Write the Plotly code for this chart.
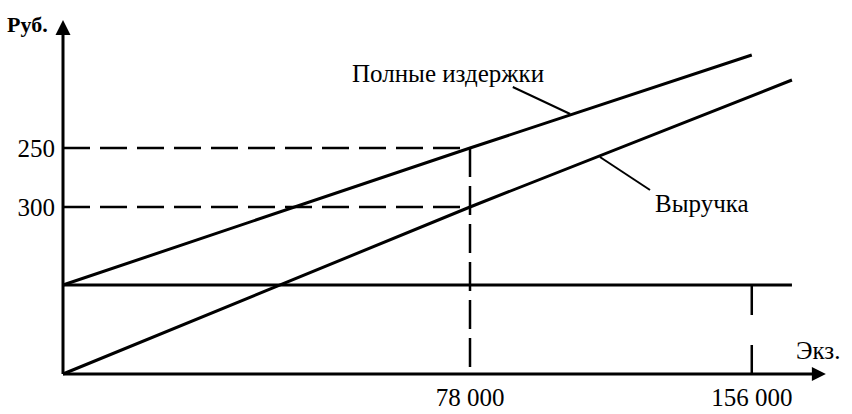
import plotly.graph_objects as go

# ---- data (schematic break-even chart) ----
q_break = 78            # break-even volume, thousand copies
q_cost_end = 132
q_rev_end = 139.7
q_axis_end = 146.2
y_axis_end = 354

cost_x = [0, q_break, q_cost_end]
cost_y = [89, 226, 319]          # total costs
rev_x = [0, q_break, q_rev_end]
rev_y = [0, 167, 294]            # revenue
fixed_x = [0, q_rev_end]
fixed_y = [89, 89]               # fixed costs

y_tick_vals = [226, 167]
y_tick_text = ["250", "300"]
x_tick_vals = [78, 132]
x_tick_text = ["78 000", "156 000"]

cost_leader_x = [86.2, 97.2]
cost_leader_y = [287, 260]
rev_leader_x = [102.9, 112.5]
rev_leader_y = [217, 184]

FONT = "Liberation Serif"
BLACK = "black"

fig = go.Figure()

def line(x, y, width=3, dash="solid"):
    fig.add_trace(go.Scatter(x=x, y=y, mode="lines",
                             line=dict(color=BLACK, width=width, dash=dash),
                             hoverinfo="skip", showlegend=False))

# axes
line([0, 0], [0, y_axis_end - 4], width=3)
line([0, q_axis_end - 1], [0, 0], width=3)
fig.add_trace(go.Scatter(x=[0], y=[y_axis_end], mode="markers",
                         marker=dict(symbol="arrow-up", size=15, color=BLACK),
                         cliponaxis=False, hoverinfo="skip", showlegend=False))
fig.add_trace(go.Scatter(x=[q_axis_end], y=[0], mode="markers",
                         marker=dict(symbol="arrow-right", size=14, color=BLACK),
                         cliponaxis=False, hoverinfo="skip", showlegend=False))

# main lines
line(cost_x, cost_y, width=3)
line(rev_x, rev_y, width=3)
line(fixed_x, fixed_y, width=3)

# dashed guides
line([0, q_break], [y_tick_vals[0], y_tick_vals[0]], width=2.5, dash="27px,10px")
line([0, q_break], [y_tick_vals[1], y_tick_vals[1]], width=2.5, dash="27px,10px")
line([q_break, q_break], [y_tick_vals[0], 0], width=2.5, dash="29px,9px")
line([q_cost_end, q_cost_end], [fixed_y[0], 0], width=2.5, dash="30px,30px")

# leader lines
line(cost_leader_x, cost_leader_y, width=2)
line(rev_leader_x, rev_leader_y, width=2)

x_scale = 407 / 78.0
left = 47
plot_w = 852 - left
x_min = -(63 - left) / x_scale
x_max = x_min + plot_w / x_scale

ann_font = dict(family=FONT, size=25, color=BLACK)
fig.add_annotation(x=cost_leader_x[0] - 12.5, y=cost_leader_y[0] + 14,
                   text="Полные издержки", showarrow=False, font=ann_font)
fig.add_annotation(x=rev_leader_x[1] + 9.9, y=rev_leader_y[1] - 13,
                   text="Выручка", showarrow=False, font=ann_font)
fig.add_annotation(xref="paper", x=(5 - left) / plot_w, xanchor="left", y=350,
                   text="<b>Руб.</b>", showarrow=False,
                   font=dict(family=FONT, size=22, color=BLACK))
fig.add_annotation(x=144.6, y=24, text="Экз.", showarrow=False, font=ann_font)

fig.update_layout(
    width=852, height=414,
    margin=dict(l=left, r=0, t=0, b=30, pad=0),
    paper_bgcolor="white", plot_bgcolor="white",
    showlegend=False,
    font=dict(family=FONT, size=25, color=BLACK),
    xaxis=dict(range=[x_min, x_max], showgrid=False, zeroline=False, showline=False,
               tickvals=x_tick_vals, ticktext=x_tick_text, ticks="",
               anchor="free", position=10 / 384, ticklabelstandoff=6,
               automargin=False,
               tickfont=dict(family=FONT, size=25, color=BLACK)),
    yaxis=dict(range=[-10, 374], showgrid=False, zeroline=False, showline=False,
               tickvals=y_tick_vals, ticktext=y_tick_text, ticks="",
               anchor="free", position=(63 - left) / plot_w, ticklabelstandoff=8,
               automargin=False,
               tickfont=dict(family=FONT, size=25, color=BLACK)),
)

fig.write_html("out.html", config={"displayModeBar": False},
               post_script="document.body.style.margin='0px';document.body.style.overflow='hidden';")
